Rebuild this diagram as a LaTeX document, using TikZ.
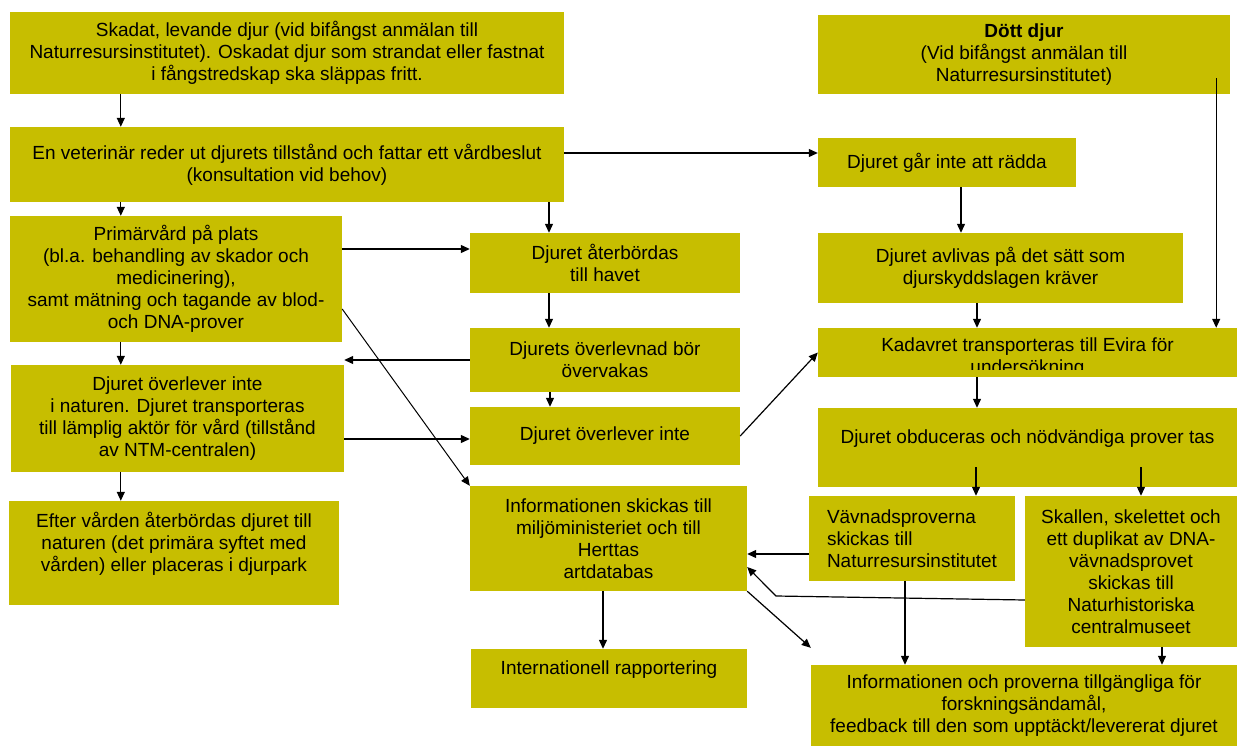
\documentclass[tikz,border=0pt]{standalone}
\usepackage{fontspec}
\setmainfont{Liberation Sans}
\usetikzlibrary{arrows.meta}
\definecolor{oliv}{RGB}{199,190,0}
\tikzset{
	ruta/.style={fill=oliv, inner sep=0pt, align=center, font=\fontsize{19}{22}\selectfont},
	pil/.style={-{Triangle[length=9pt,width=8pt]}, line width=1.2pt},
	linje/.style={line width=1.2pt}
}

\begin{document}
\begin{tikzpicture}[x=1pt, y=-1pt]
		%%%%% START %%%%%
		\useasboundingbox (0,0) rectangle (1237,746);
		
		% vaenster kolumn
		\node[ruta, minimum width=554, minimum height=82] (skadat) at (287,53) {Skadat, levande djur (vid bifångst anmälan till\\Naturresursinstitutet). Oskadat djur som strandat eller fastnat\\i fångstredskap ska släppas fritt.};
		\node[ruta, minimum width=554, minimum height=75] (veterinar) at (287,164.5) {En veterinär reder ut djurets tillstånd och fattar ett vårdbeslut\\(konsultation vid behov)};
		\node[ruta, minimum width=332, minimum height=126] (primar) at (176,279) {Primärvård på plats\\(bl.a. behandling av skador och\\medicinering),\\samt mätning och tagande av blod-\\och DNA-prover};
		\node[ruta, minimum width=333, minimum height=107] (naturen) at (177.5,418.5) {Djuret överlever inte\\i naturen. Djuret transporteras\\till lämplig aktör för vård (tillstånd\\av NTM-centralen)};
		\node[ruta, minimum width=330, minimum height=104] (efter) at (174,553) {Efter vården återbördas djuret till\\naturen (det primära syftet med\\vården) eller placeras i djurpark\\ \mbox{}};
		
		% mitten
		\node[ruta, minimum width=270, minimum height=60] (aterbordas) at (605,263) {Djuret återbördas\\till havet};
		\node[ruta, minimum width=270, minimum height=64] (overvakas) at (605,360) {Djurets överlevnad bör\\övervakas};
		\node[ruta, minimum width=270, minimum height=58] (dor) at (605,436) {Djuret överlever inte};
		\node[ruta, minimum width=277, minimum height=105] (info) at (608.5,538.5) {Informationen skickas till\\miljöministeriet och till\\Herttas\\artdatabas};
		\node[ruta, minimum width=276, minimum height=59] (intern) at (609,678.5) {Internationell rapportering\\ \mbox{}};
		
		% hoeger kolumn
		\node[ruta, minimum width=412, minimum height=79] (dott) at (1024,54.5) {\textbf{Dött djur}\\(Vid bifångst anmälan till\\Naturresursinstitutet)};
		\node[ruta, minimum width=258, minimum height=49] (radda) at (947,162.5) {Djuret går inte att rädda};
		\node[ruta, minimum width=365, minimum height=70] (avlivas) at (1000.5,268) {Djuret avlivas på det sätt som\\djurskyddslagen kräver};
		\node[ruta, minimum width=419, minimum height=49] (kadaver) at (1027.5,352.5) {};
		\begin{scope}
			\clip (818,328) rectangle (1237,369.5);
			\node[ruta, fill=none] (kadavertext) at (1027.5,358) {Kadavret transporteras till Evira för\\undersökning};
		\end{scope}
		\node[ruta, minimum width=419, minimum height=79] (obduktion) at (1027.5,447.5) {Djuret obduceras och nödvändiga prover tas\\ \mbox{}};
		\node[ruta, minimum width=206, minimum height=85, align=left] (vavnad) at (912,538.5) {Vävnadsproverna\\skickas till\\Naturresursinstitutet};
		\node[ruta, minimum width=212, minimum height=151] (skallen) at (1131,571.5) {Skallen, skelettet och\\ett duplikat av DNA-\\vävnadsprovet\\skickas till\\Naturhistoriska\\centralmuseet};
		\node[ruta, minimum width=426, minimum height=81] (forskning) at (1024,705.5) {Informationen och proverna tillgängliga för\\forskningsändamål,\\feedback till den som upptäckt/levererat djuret};
		
		% pilar vaenster
		\draw[pil] ([xshift=111pt]skadat.south west) -- ([xshift=111pt]veterinar.north west);
		\draw[pil] ([xshift=111pt]veterinar.south west) -- ([xshift=111pt]primar.north west);
		\draw[pil] ([xshift=111pt]primar.south west) -- ([xshift=110pt]naturen.north west);
		\draw[pil] ([xshift=110pt]naturen.south west) -- ([xshift=112pt]efter.north west);
		\draw[pil] ([xshift=-56pt]aterbordas.north |- veterinar.south) -- ([xshift=-56pt]aterbordas.north);
		\draw[pil] ([yshift=11.5pt]veterinar.east) -- ([yshift=11.5pt]veterinar.east -| radda.west);
		\draw[pil] ([yshift=30pt]primar.east) -- ([yshift=30pt]primar.east -| aterbordas.west);
		\draw[pil, line width=1pt] ([yshift=-30pt]primar.east) -- (info.north west);
		\draw[pil] ([yshift=-20.5pt]naturen.east) -- ([yshift=-20.5pt]naturen.east -| dor.west);
		
		% pilar mitten
		\draw[pil] ([xshift=-56pt]aterbordas.south) -- ([xshift=-56pt]overvakas.north);
		\draw[pil] (overvakas.west) -- (overvakas.west -| naturen.east);
		\draw[pil] ([xshift=-55pt]overvakas.south) -- ([xshift=-55pt]dor.north);
		\draw[pil] (dor.east) -- (kadaver.west);
		\draw[pil] ([xshift=-5.5pt]info.south) -- ([xshift=-5.5pt]info.south |- intern.north);
		\draw[pil] (info.south east) -- ([yshift=17pt]forskning.north west);
		
		% pilar hoeger
		\coordinate (dottstart) at ([xshift=-14pt, yshift=16pt]dott.south east);
		\draw[pil] (dottstart) -- (dottstart |- kadaver.north);
		\draw[pil] ([xshift=14pt]radda.south) -- ([xshift=14pt]radda.south |- avlivas.north);
		\draw[pil] ([xshift=-50.5pt]kadaver.north |- avlivas.south) -- ([xshift=-50.5pt]kadaver.north);
		\draw[pil] ([xshift=-50.5pt]kadaver.south) -- ([xshift=-50.5pt]obduktion.north);
		\draw[pil] ([xshift=-51.5pt, yshift=20pt]obduktion.south) -- ([xshift=-51.5pt]obduktion.south |- vavnad.north);
		\draw[pil] ([xshift=113.5pt, yshift=20pt]obduktion.south) -- ([xshift=113.5pt]obduktion.south |- skallen.north);
		\draw[pil] ([yshift=-15.5pt]vavnad.west) -- ([yshift=-15.5pt]vavnad.west -| info.east);
		\coordinate (knick) at (776,596);
		\draw[pil] ([yshift=-28.5pt]skallen.west) -- (knick) -- ([yshift=-28.5pt]info.east);
		\draw[pil] ([xshift=-7pt]vavnad.south) -- ([xshift=-7pt]vavnad.south |- forskning.north);
		\draw[pil] ([xshift=31pt]skallen.south) -- ([xshift=31pt]skallen.south |- forskning.north);
		
		%%%%% END %%%%%
\end{tikzpicture}
\end{document}
